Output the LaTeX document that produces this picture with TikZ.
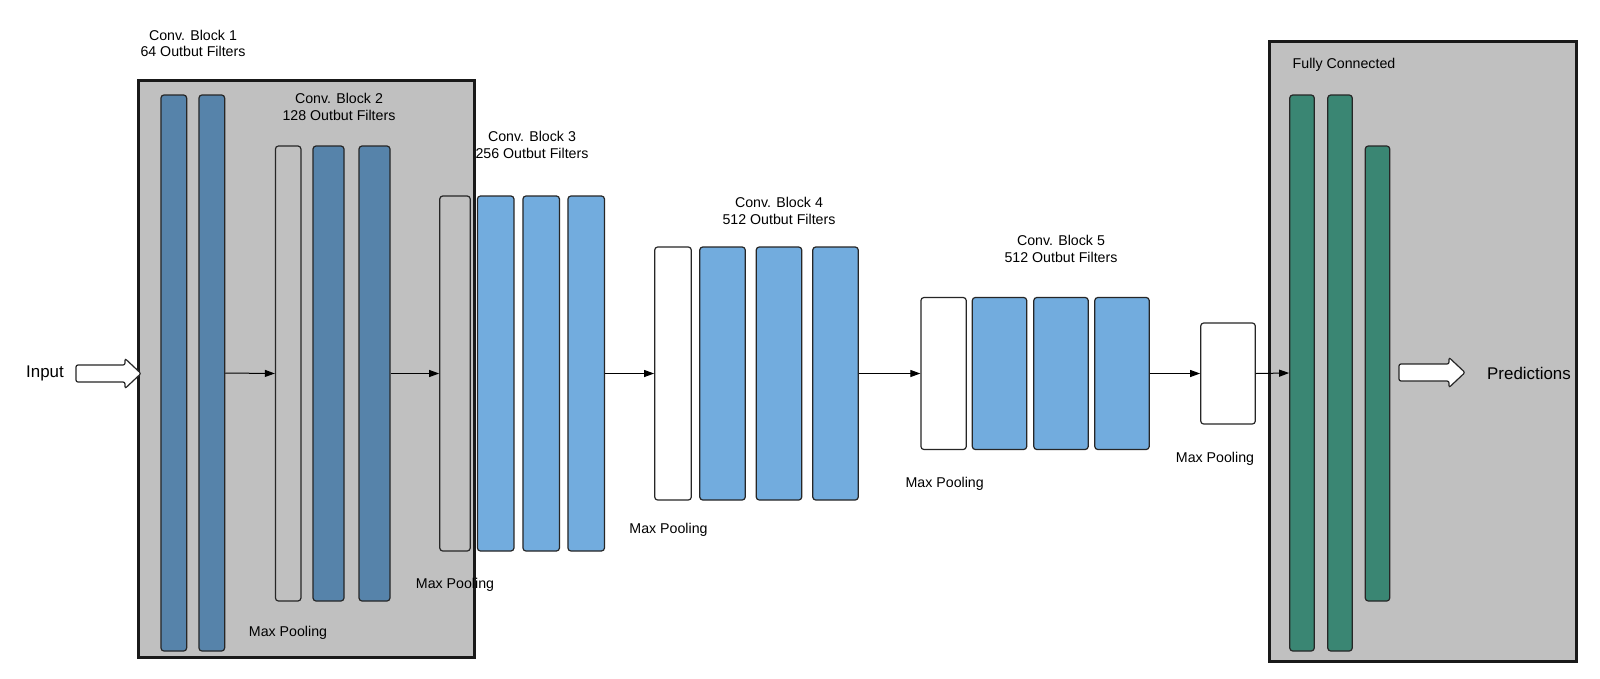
\documentclass[tikz,border=0pt]{standalone}
\usepackage{fontspec}
\setmainfont{Liberation Sans}
\usetikzlibrary{arrows.meta}
\definecolor{dblue}{RGB}{86,131,170}
\definecolor{lblue}{RGB}{114,172,222}
\definecolor{fcgreen}{RGB}{58,134,115}
\definecolor{boxgrey}{RGB}{192,192,192}
\tikzset{
  bar/.style={draw=black!85, line width=1.2pt, rounded corners=3pt, inner sep=0pt, minimum width=#1},
  darkbar/.style={bar=#1, fill=dblue},
  lightbar/.style={bar=#1, fill=lblue},
  greenbar/.style={bar=#1, fill=fcgreen},
  greybar/.style={bar=#1, fill=boxgrey},
  whitebar/.style={bar=#1, fill=white},
  bigbox/.style={draw=black!90, line width=3pt, fill=boxgrey, inner sep=0pt},
  lbl/.style={font=\fontsize{14.2}{16.8}\selectfont, align=center, inner sep=0pt},
  biglbl/.style={font=\fontsize{16.9}{19}\selectfont, inner sep=0pt},
  conn/.style={line width=1pt, -{Triangle[length=10pt,width=7pt]}},
  blockarrow/.style={draw=black!85, line width=1.2pt, fill=white, rounded corners=2pt}
}
\begin{document}
\begin{tikzpicture}[x=1pt,y=-1pt]
\useasboundingbox (0,0) rectangle (1600,678);
\fill[white] (0,0) rectangle (1600,678);

% big boxes
\node[bigbox, minimum width=335.7pt, minimum height=576.4pt] (blk1) at (306.6,368.8) {};
\node[bigbox, minimum width=307.5pt, minimum height=619.2pt] (fc) at (1422.8,351.4) {};

% Block 1
\node[darkbar=25.7pt, minimum height=556pt] (b1a) at (173.8,373) {};
\node[darkbar=25.7pt, minimum height=556pt] (b1b) at (211.8,373) {};
% Block 2
\node[greybar=25.5pt, minimum height=455pt] (p2) at (288.2,373.5) {};
\node[darkbar=31pt, minimum height=455pt] (b2a) at (328.5,373.5) {};
\node[darkbar=31pt, minimum height=455pt] (b2b) at (374.5,373.5) {};
% Block 3
\node[greybar=30.5pt, minimum height=355pt] (p3) at (455,373.5) {};
\node[lightbar=36.5pt, minimum height=355pt] (b3a) at (495.7,373.5) {};
\node[lightbar=36.5pt, minimum height=355pt] (b3b) at (541.2,373.5) {};
\node[lightbar=36.5pt, minimum height=355pt] (b3c) at (586.2,373.5) {};
% Block 4
\node[whitebar=36.6pt, minimum height=253pt] (p4) at (673,373.5) {};
\node[lightbar=45.5pt, minimum height=253pt] (b4a) at (722.5,373.5) {};
\node[lightbar=45.5pt, minimum height=253pt] (b4b) at (779,373.5) {};
\node[lightbar=45.5pt, minimum height=253pt] (b4c) at (835.5,373.5) {};
% Block 5
\node[whitebar=45.3pt, minimum height=152pt] (p5) at (943.6,373.5) {};
\node[lightbar=54.4pt, minimum height=152pt] (b5a) at (999.5,373.5) {};
\node[lightbar=54.4pt, minimum height=152pt] (b5b) at (1061,373.5) {};
\node[lightbar=54.4pt, minimum height=152pt] (b5c) at (1122,373.5) {};
% final pooling
\node[whitebar=54.6pt, minimum height=101pt] (p6) at (1228,373.5) {};
% FC
\node[greenbar=24.5pt, minimum height=556pt] (fc1) at (1302,373) {};
\node[greenbar=24.5pt, minimum height=556pt] (fc2) at (1340,373) {};
\node[greenbar=24.5pt, minimum height=455pt] (fc3) at (1377.5,373.5) {};

% connectors
\draw[conn] (b1b.east) -- (p2.west);
\draw[conn] (b2b.east) -- (p3.west);
\draw[conn] (b3c.east) -- (p4.west);
\draw[conn] (b4c.east) -- (p5.west);
\draw[conn] (b5c.east) -- (p6.west);
\draw[conn] (p6.east) -- (fc1.west);

% block arrows
\coordinate (inTip) at (141,373.5);
\coordinate (prTip) at (1465,372.5);
\draw[blockarrow] (76,365) -- (125,365) -- (125,358.5) -- (inTip) -- (125,388.5) -- (125,382) -- (76,382) -- cycle;
\draw[blockarrow] (1399,364) -- (1449,364) -- (1449,357.5) -- (prTip) -- (1449,387.5) -- (1449,381) -- (1399,381) -- cycle;

% labels
\node[biglbl] (tin) at (45,373.5) {Input};
\node[biglbl] (tpred) at (1529,373.5) {Predictions};
\node[lbl] (t1) at (193,43.5) {Conv. Block 1\\64 Outbut Filters};
\node[lbl] (t2) at (339,107) {Conv. Block 2\\128 Outbut Filters};
\node[lbl] (t3) at (532,145) {Conv. Block 3\\256 Outbut Filters};
\node[lbl] (t4) at (779,211) {Conv. Block 4\\512 Outbut Filters};
\node[lbl] (t5) at (1061,249) {Conv. Block 5\\512 Outbut Filters};
\node[lbl] (m2) at (288,632.5) {Max Pooling};
\node[lbl] (m3) at (455,584.5) {Max Pooling};
\node[lbl] (m4) at (668.5,529.5) {Max Pooling};
\node[lbl] (m5) at (944.7,483.5) {Max Pooling};
\node[lbl] (m6) at (1215,458.5) {Max Pooling};
\node[lbl] (tfc) at (1344,64.5) {Fully Connected};
\end{tikzpicture}
\end{document}
